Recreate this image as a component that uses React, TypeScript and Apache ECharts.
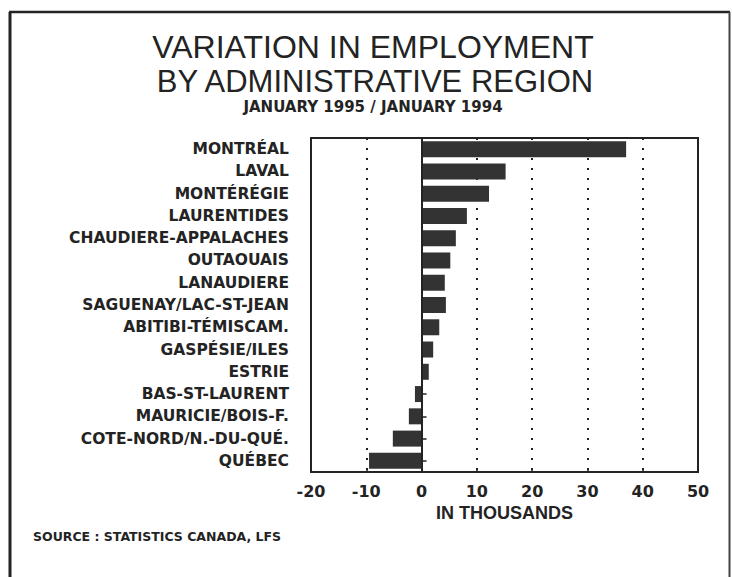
import React, { useEffect, useRef } from "react";
import * as echarts from "echarts";

const categories = [
  "MONTRÉAL",
  "LAVAL",
  "MONTÉRÉGIE",
  "LAURENTIDES",
  "CHAUDIERE-APPALACHES",
  "OUTAOUAIS",
  "LANAUDIERE",
  "SAGUENAY/LAC-ST-JEAN",
  "ABITIBI-TÉMISCAM.",
  "GASPÉSIE/ILES",
  "ESTRIE",
  "BAS-ST-LAURENT",
  "MAURICIE/BOIS-F.",
  "COTE-NORD/N.-DU-QUÉ.",
  "QUÉBEC",
];

const values = [37, 15.2, 12.2, 8.2, 6.2, 5.2, 4.2, 4.4, 3.2, 2.1, 1.3, -1.2, -2.3, -5.2, -9.5];

const xMin = -20;
const xMax = 50;
const xInterval = 10;

const titleLines = [
  "VARIATION IN EMPLOYMENT",
  "BY ADMINISTRATIVE REGION",
  "JANUARY 1995 / JANUARY 1994",
];
const xAxisName = "IN THOUSANDS";
const sourceText = "SOURCE : STATISTICS CANADA, LFS";

export default function App() {
  const ref = useRef<HTMLDivElement>(null);

  useEffect(() => {
    if (!ref.current) return;
    const chart = echarts.init(ref.current, undefined, { renderer: "svg" });
    const ink = "#232323";
    chart.setOption({
      animation: false,
      backgroundColor: "#ffffff",
      grid: {
        left: 311,
        right: 34,
        top: 138,
        bottom: 105,
        show: true,
        borderColor: ink,
        borderWidth: 2,
        backgroundColor: "transparent",
      },
      xAxis: {
        type: "value",
        min: xMin,
        max: xMax,
        interval: xInterval,
        axisLine: { show: false },
        axisTick: { show: true, inside: true, length: 4, lineStyle: { color: ink, width: 1.5 } },
        splitLine: {
          show: true,
          lineStyle: { type: [2, 8], width: 2, color: ink },
        },
        axisLabel: {
          margin: 11,
          fontFamily: "DejaVu Sans",
          fontWeight: "bold",
          fontSize: 16,
          color: ink,
        },
        name: xAxisName,
        nameLocation: "middle",
        nameGap: 31,
        nameTextStyle: {
          fontFamily: "Liberation Sans",
          fontWeight: "bold",
          fontSize: 18,
          color: ink,
        },
      },
      yAxis: {
        type: "category",
        inverse: true,
        data: categories,
        axisLine: { show: false },
        axisTick: {
          show: true,
          inside: true,
          alignWithLabel: true,
          length: 5,
          lineStyle: { color: ink, width: 1.5 },
        },
        axisLabel: {
          margin: 22,
          fontFamily: "DejaVu Sans",
          fontWeight: "bold",
          fontSize: 15.5,
          color: ink,
        },
        splitLine: { show: false },
      },
      series: [
        {
          type: "bar",
          data: values,
          barWidth: 16,
          itemStyle: { color: "#333333" },
          markLine: {
            silent: true,
            symbol: "none",
            label: { show: false },
            lineStyle: { type: "solid", color: ink, width: 2 },
            data: [{ xAxis: 0 }],
          },
        },
      ],
      graphic: [
        {
          type: "line",
          shape: { x1: 10, y1: 12, x2: 10, y2: 577 },
          style: { stroke: ink, lineWidth: 3 },
        },
        {
          type: "line",
          shape: { x1: 9, y1: 12, x2: 730, y2: 12 },
          style: { stroke: ink, lineWidth: 2.5 },
        },
        {
          type: "line",
          shape: { x1: 729.5, y1: 12, x2: 729.5, y2: 577 },
          style: { stroke: "#444", lineWidth: 2 },
        },
        {
          type: "text",
          x: 373,
          y: 47,
          style: {
            text: titleLines[0],
            fontFamily: "Liberation Sans",
            fontSize: 32,
            lineHeight: 26,
            fill: ink,
            align: "center",
            verticalAlign: "middle",
          },
        },
        {
          type: "text",
          x: 375,
          y: 81.5,
          style: {
            text: titleLines[1],
            fontFamily: "Liberation Sans",
            fontSize: 31,
            lineHeight: 25,
            fill: ink,
            align: "center",
            verticalAlign: "middle",
          },
        },
        {
          type: "text",
          x: 373,
          y: 106.5,
          style: {
            text: titleLines[2],
            fontFamily: "DejaVu Sans",
            fontWeight: "bold",
            fontSize: 15,
            lineHeight: 14,
            fill: ink,
            align: "center",
            verticalAlign: "middle",
          },
        },
        {
          type: "text",
          x: 33,
          y: 536,
          style: {
            text: sourceText,
            fontFamily: "DejaVu Sans",
            fontWeight: "bold",
            fontSize: 12.5,
            fill: ink,
            align: "left",
            verticalAlign: "middle",
          },
        },
      ],
    });
    return () => chart.dispose();
  }, []);

  return (
    <div
      ref={ref}
      style={{ position: "fixed", left: 0, top: 0, width: 732, height: 577 }}
    />
  );
}
